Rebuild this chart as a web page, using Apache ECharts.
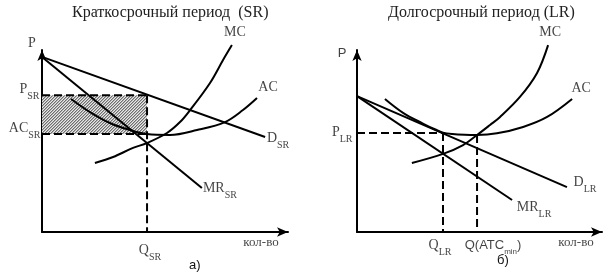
<!DOCTYPE html>
<html>
<head>
<meta charset="utf-8">
<script src="https://cdn.jsdelivr.net/npm/echarts@6/dist/echarts.min.js"></script>
<style>html,body{margin:0;padding:0;background:#fff}#c{width:612px;height:279px}</style>
</head>
<body>
<div id="c"></div>
<script>
// ---- Short run (SR), panel а) ----
const srDemand = [[0, 9.62], [9.07, 5.22]];
const srMR = [[0, 9.62], [6.5, 2.42]];
const srAC = [[1.18, 7.31], [1.95, 6.59], [2.76, 5.99], [3.58, 5.60], [4.27, 5.38], [5.20, 5.33], [6.30, 5.60], [7.44, 6.04], [8.17, 6.70], [8.74, 7.36]];
const srMC = [[2.15, 3.79], [2.89, 4.12], [3.70, 4.62], [4.27, 4.89], [5.08, 5.44], [5.61, 6.04], [6.02, 6.70], [6.83, 8.19], [7.36, 9.45], [7.72, 10.27]];
const srQ = 4.27, srP = 7.52, srACv = 5.38;

// ---- Long run (LR), panel б) ----
const lrDemand = [[0, 7.47], [8.57, 2.47]];
const lrMR = [[0, 7.47], [6.33, 1.76]];
const lrAC = [[1.14, 7.31], [1.88, 6.55], [2.69, 5.96], [3.2, 5.63], [3.51, 5.46], [3.9, 5.38], [4.4, 5.34], [4.9, 5.33], [5.71, 5.42], [6.78, 5.77], [7.76, 6.32], [8.78, 7.31]];
const lrMC = [[2.24, 3.79], [3.51, 4.29], [4.33, 4.78], [4.9, 5.33], [5.43, 5.88], [5.84, 6.32], [6.65, 7.42], [7.35, 8.74], [7.80, 10.27]];
const lrQ = 3.51, lrP = 5.44, lrQmin = 4.9, lrACmin = 5.33;

// ---- texts ----
const titleSR = 'Краткосрочный период  (SR)';
const titleLR = 'Долгосрочный период (LR)';
const axisQty = 'кол-во';
const axisP = 'P';
const panelA = 'а)';
const panelB = 'б)';
const axisMax = 10;

// hatch pattern
function hatch() {
  const n = 3, cv = document.createElement('canvas');
  cv.width = n; cv.height = n;
  const ctx = cv.getContext('2d');
  const img = ctx.createImageData(n, n);
  const shades = [110, 176, 232];
  for (let y = 0; y < n; y++) for (let x = 0; x < n; x++) {
    const v = shades[(x + y) % n];
    const i = (y * n + x) * 4;
    img.data[i] = v; img.data[i + 1] = v; img.data[i + 2] = v; img.data[i + 3] = 255;
  }
  ctx.putImageData(img, 0, 0);
  return cv;
}

const SERIF = 'Liberation Serif';
const SANS = 'Liberation Sans';
const rich = {
  m: { fontFamily: SERIF, fontSize: 14, lineHeight: 24, color: '#111' },
  s: { fontFamily: SERIF, fontSize: 10, lineHeight: 11, verticalAlign: 'bottom', color: '#111' },
  a: { fontFamily: SANS, fontSize: 13, lineHeight: 22, color: '#111' },
  as: { fontFamily: SANS, fontSize: 8, lineHeight: 10, verticalAlign: 'bottom', color: '#111' },
  q: { fontFamily: SERIF, fontSize: 13, lineHeight: 22, color: '#111' }
};

function ax(gi) {
  return {
    gridIndex: gi, type: 'value', min: 0, max: axisMax,
    axisLine: { show: true, onZero: false, symbol: ['none', 'arrow'], symbolSize: [7, 11], lineStyle: { color: '#000', width: 2 } },
    axisTick: { show: false }, axisLabel: { show: false }, splitLine: { show: false }
  };
}
function line(gi, data, smooth, dashed) {
  return {
    type: 'line', xAxisIndex: gi, yAxisIndex: gi, data: data, smooth: smooth ? 0.35 : false,
    symbol: 'none', clip: false, silent: true,
    lineStyle: { color: '#000', width: 2, type: dashed ? [8, 4] : 'solid' }
  };
}
function labels(gi, items) {
  return {
    type: 'scatter', xAxisIndex: gi, yAxisIndex: gi, symbolSize: 1, clip: false, silent: true,
    itemStyle: { color: 'transparent' },
    data: items.map(it => ({
      value: it.at,
      label: {
        show: true, position: it.pos || 'inside', distance: it.dist || 0, offset: it.off,
        formatter: it.text, rich: rich
      }
    }))
  };
}
const last = a => a[a.length - 1];
const titleStyle = { fontFamily: SERIF, fontSize: 16, fontWeight: 'normal', color: '#222', lineHeight: 18 };
const panelStyle = { fontFamily: SANS, fontSize: 13, fontWeight: 'normal', color: '#111', lineHeight: 14 };

const option = {
  animation: false,
  backgroundColor: '#fff',
  title: [
    { text: titleSR, left: 72, top: 4, padding: 0, textStyle: titleStyle },
    { text: titleLR, left: 388, top: 4, padding: 0, textStyle: titleStyle },
    { text: panelA, left: 189, top: 258, padding: 0, textStyle: panelStyle },
    { text: panelB, left: 497, top: 253, padding: 0, textStyle: panelStyle }
  ],
  grid: [
    { left: 42, right: 324, top: 50, bottom: 47, outerBoundsMode: 'none' },
    { left: 357, right: 10, top: 50, bottom: 47, outerBoundsMode: 'none' }
  ],
  xAxis: [ax(0), ax(1)],
  yAxis: [ax(0), ax(1)],
  series: [
    // hatched profit area
    {
      type: 'line', xAxisIndex: 0, yAxisIndex: 0, data: [], silent: true,
      markArea: { silent: true, itemStyle: { color: { image: hatch(), repeat: 'repeat' } },
        data: [[{ coord: [0, srP] }, { coord: [srQ, srACv] }]] }
    },
    line(0, srDemand), line(0, srMR), line(0, srAC, true), line(0, srMC, true),
    line(0, [[0, srP], [srQ, srP]], false, true),
    line(0, [[0, srACv], [srQ, srACv]], false, true),
    line(0, [[srQ, srP], [srQ, 0]], false, true),
    line(1, lrDemand), line(1, lrMR), line(1, lrAC, true), line(1, lrMC, true),
    line(1, [[0, lrP], [lrQ, lrP]], false, true),
    line(1, [[lrQ, lrP], [lrQ, 0]], false, true),
    line(1, [[lrQmin, lrACmin], [lrQmin, 0]], false, true),
    labels(0, [
      { at: [0, axisMax], text: '{m|' + axisP + '}', off: [-10, -7] },
      { at: [0, srP], text: '{m|P}{s|SR}', pos: 'left', dist: 2, off: [0, -6] },
      { at: [0, srACv], text: '{m|AC}{s|SR}', pos: 'left', dist: 1, off: [0, -6] },
      { at: [srQ, 0], text: '{m|Q}{s|SR}', off: [3, 18] },
      { at: [axisMax, 0], text: '{q|' + axisQty + '}', off: [-27, 11] },
      { at: last(srMC), text: '{m|MC}', off: [3, -13] },
      { at: last(srAC), text: '{m|AC}', off: [11, -11] },
      { at: last(srDemand), text: '{m|D}{s|SR}', off: [13, 1] },
      { at: last(srMR), text: '{m|MR}{s|SR}', off: [18, 0] }
    ]),
    labels(1, [
      { at: [0, axisMax], text: '{a|' + axisP + '}', off: [-15, 3] },
      { at: [0, lrP], text: '{m|P}{s|LR}', pos: 'left', dist: 4, off: [0, -1] },
      { at: [lrQ, 0], text: '{m|Q}{s|LR}', off: [-3, 13] },
      { at: [lrQmin, 0], text: '{a|Q(ATC}{as|min}{a|)}', off: [16, 13] },
      { at: [axisMax, 0], text: '{q|' + axisQty + '}', off: [-26, 11] },
      { at: last(lrMC), text: '{m|MC}', off: [2, -13] },
      { at: last(lrAC), text: '{m|AC}', off: [9, -11] },
      { at: last(lrDemand), text: '{m|D}{s|LR}', off: [18, -5] },
      { at: last(lrMR), text: '{m|MR}{s|LR}', off: [22, 7] }
    ])
  ]
};
const chart = echarts.init(document.getElementById('c'), null, { renderer: 'canvas' });
chart.setOption(option);
</script>
</body>
</html>
